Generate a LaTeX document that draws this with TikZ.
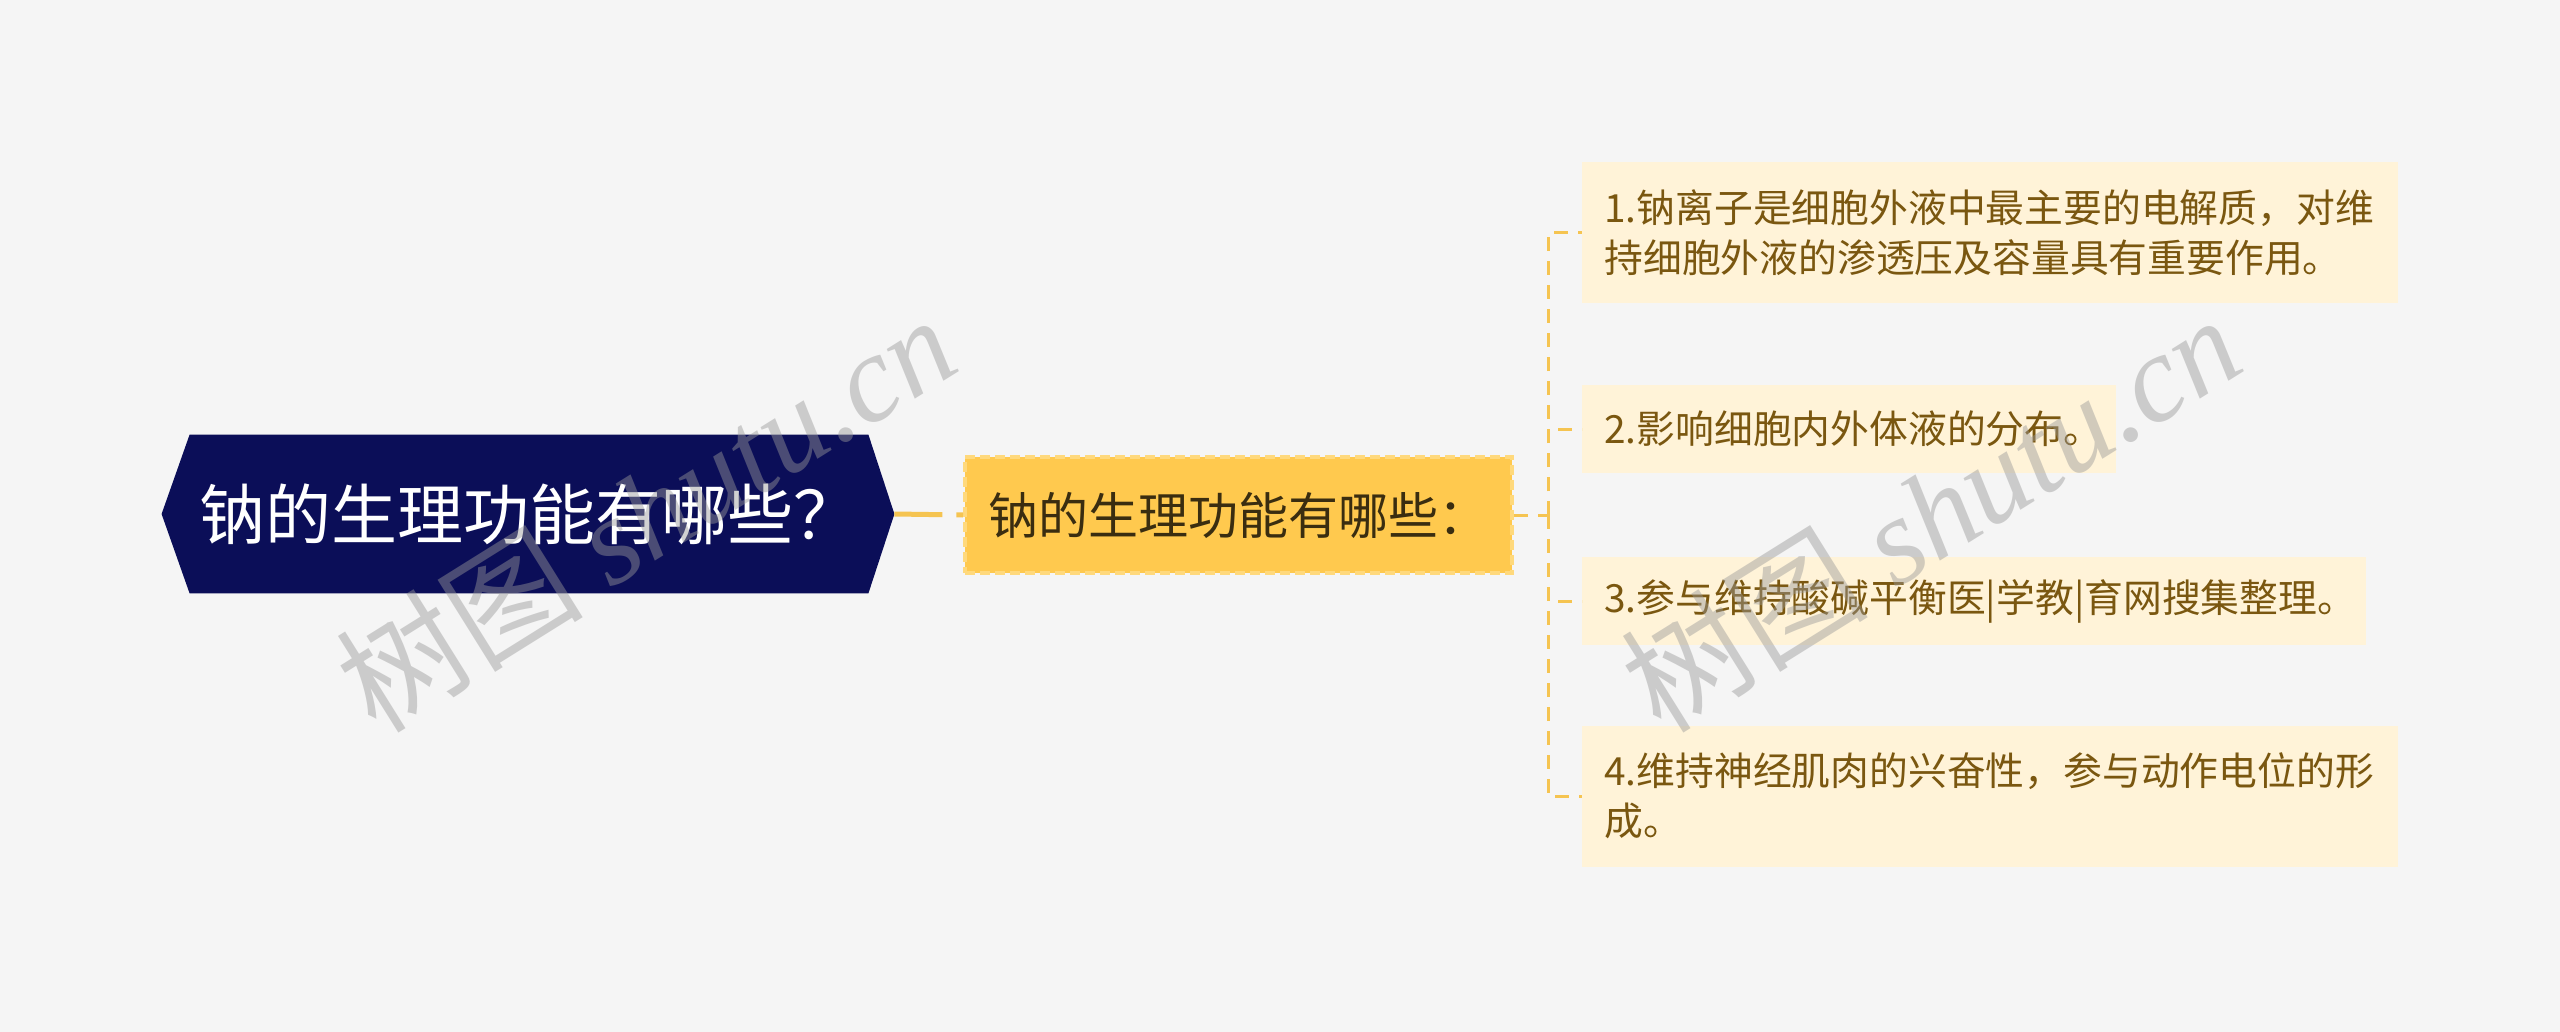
\documentclass[tikz,border=0pt]{standalone}
\usepackage{fontspec}
\setmainfont{Noto Sans CJK SC}
\newfontfamily\wmlatin{Liberation Serif}
\usetikzlibrary{positioning,calc,backgrounds}
\definecolor{bgc}{HTML}{F5F5F5}
\definecolor{navyc}{HTML}{0B0E58}
\definecolor{linec}{HTML}{F5C451}
\definecolor{midfill}{HTML}{FFC94E}
\definecolor{midline}{HTML}{FFD97C}
\definecolor{leaffill}{HTML}{FFF3D8}
\definecolor{leaftext}{HTML}{7A5710}
\definecolor{midtext}{HTML}{3A2D10}
\tikzset{rootbox/.style={rectangle,minimum width=339pt,minimum height=79pt,inner sep=0pt,text=white,font=\fontsize{33}{39}\selectfont},
midbox/.style={fill=midfill,draw=midline,line width=2pt,dash pattern=on 5pt off 2.5pt,rectangle,minimum width=273.5pt,minimum height=58pt,inner sep=0pt,text=midtext,font=\fontsize{25}{30}\selectfont},
leafbox/.style={fill=leaffill,rectangle,anchor=west,minimum height=44pt,inner xsep=11pt,inner ysep=0pt,align=left,text=leaftext,font=\fontsize{19.4}{25}\selectfont}}

\begin{document}
\begin{tikzpicture}[x=0.5pt,y=-0.5pt,link/.style={draw=linec,line width=1.5pt,dash pattern=on 7pt off 5pt},wmark/.style={text=gray!80,opacity=0.45,rotate=32,font=\fontsize{62}{70}\selectfont}]
			\node[rootbox] (root) at (529,514) {钠的生理功能有哪些？};
			\begin{scope}[on background layer]
			\fill[bgc] (0,0) rectangle (2560,1032);
			\fill[navyc] (root.north west) -- ([xshift=-14pt]root.west) -- (root.south west) -- (root.south east) -- ([xshift=13pt]root.east) -- (root.north east) -- cycle;
			\end{scope}

			\node[midbox] (mid) at (1238.5,515) {钠的生理功能有哪些：};

			\node[leafbox,text width=386pt,minimum height=70.5pt] (leaf1) at (1582,233) {1.钠离子是细胞外液中最主要的电解质，对维\\持细胞外液的渗透压及容量具有重要作用。};
			\node[leafbox,text width=245pt] (leaf2) at (1582,429) {2.影响细胞内外体液的分布。};
			\node[leafbox,text width=370pt] (leaf3) at (1582,601) {3.参与维持酸碱平衡医|学教|育网搜集整理。};
			\node[leafbox,text width=386pt,minimum height=70.5pt] (leaf4) at (1582,796) {4.维持神经肌肉的兴奋性，参与动作电位的形\\成。};

			\coordinate (trunk) at (1548,515);
			\draw[draw=linec,line width=2.5pt,dash pattern=on 24pt off 7pt on 4pt off 2pt] ([xshift=13pt]root.east) -- (mid.west);
			\draw[link] (mid.east) -- (trunk);
			\draw[link] (trunk) |- (leaf1.west);
			\draw[link] (trunk) |- (leaf2.west);
			\draw[link] (trunk) |- (leaf3.west);
			\draw[link] (trunk) |- (leaf4.west);

			\node[wmark] (wm1) at (645,512) {树图 {\wmlatin\itshape shutu.cn}};
			\node[wmark] (wm2) at (1930,512) {树图 {\wmlatin\itshape shutu.cn}};
		\end{tikzpicture}
\end{document}
